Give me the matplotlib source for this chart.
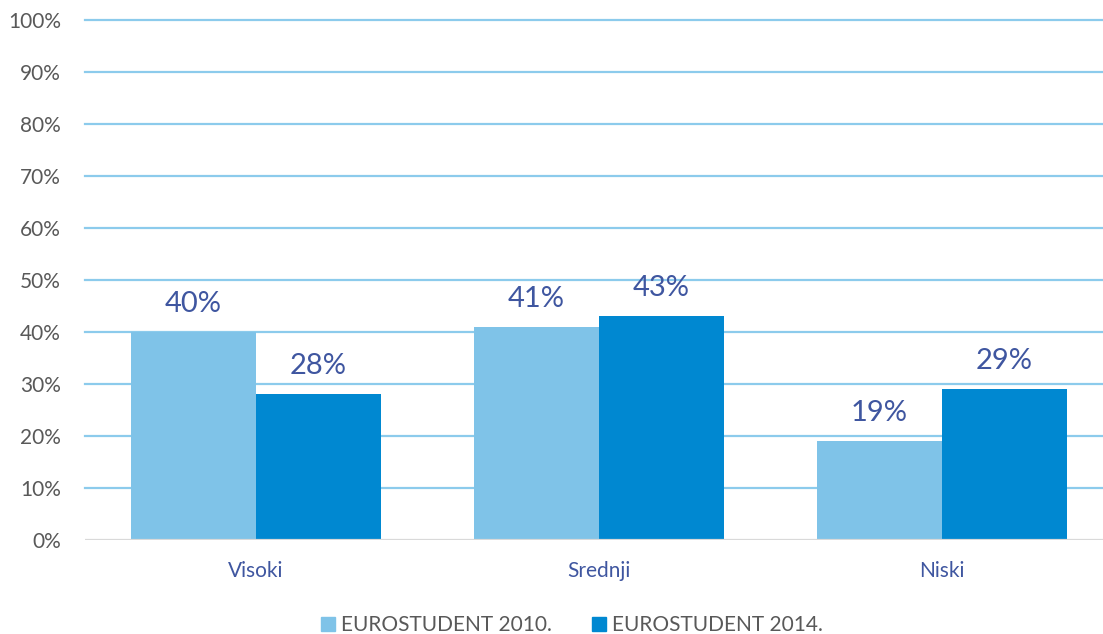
import matplotlib.pyplot as plt
import numpy as np
from matplotlib.patches import Patch

categories = ["Visoki", "Srednji", "Niski"]
series_names = ["EUROSTUDENT 2010.", "EUROSTUDENT 2014."]
values_2010 = [0.40, 0.41, 0.19]
values_2014 = [0.28, 0.43, 0.29]
yticks = [0.0, 0.1, 0.2, 0.3, 0.4, 0.5, 0.6, 0.7, 0.8, 0.9, 1.0]

light = "#7fc3e8"
dark = "#0088d1"
label_col = "#3f56a0"
tick_col = "#595959"

plt.rcParams['font.family'] = ['Lato', 'DejaVu Sans']

fig = plt.figure(figsize=(11.03, 6.34), dpi=100)
ax = fig.add_axes([84.5 / 1103, 94 / 634, 1 - 84.5 / 1103, 520 / 634])

x = np.arange(len(categories))
w = 125 / 343
b1 = ax.bar(x - w / 2, values_2010, w, color=light, zorder=2)
b2 = ax.bar(x + w / 2, values_2014, w, color=dark, zorder=2)

for bars, vals in [(b1, values_2010), (b2, values_2014)]:
    for r, v in zip(bars, vals):
        ax.annotate(f"{v * 100:.0f}%", (r.get_x() + r.get_width() / 2, v),
                    xytext=(0, 11), textcoords="offset points",
                    ha="center", va="bottom", fontsize=21, color=label_col)

ax.set_xlim(-0.5, (1103 - 84.5) / 343 - 0.5)
ax.set_ylim(0, 1)
ax.set_yticks(yticks)
ax.set_yticklabels([f"{t * 100:.0f}%" for t in yticks])
ax.set_xticks(x)
ax.set_xticklabels(categories)
ax.tick_params(axis="y", length=0, pad=17, labelsize=15, labelcolor=tick_col)
ax.tick_params(axis="x", length=0, pad=15, labelsize=15, labelcolor=label_col)

for s in ax.spines.values():
    s.set_visible(False)
for t in yticks[1:]:
    ax.axhline(t, color="#8ccbec", lw=1.6, zorder=1, clip_on=False)
ax.axhline(0, color="#d9d9d9", lw=1.6, zorder=3)

handles = [Patch(color=light), Patch(color=dark)]
fig.legend(handles, series_names, loc="center", ncol=2,
           bbox_to_anchor=(572 / 1103, 1 - 625 / 634), frameon=False,
           fontsize=15, labelcolor=tick_col, handlelength=0.67, handleheight=0.67,
           handletextpad=0.3, columnspacing=1.9)

fig.savefig("out.png", dpi=100)
